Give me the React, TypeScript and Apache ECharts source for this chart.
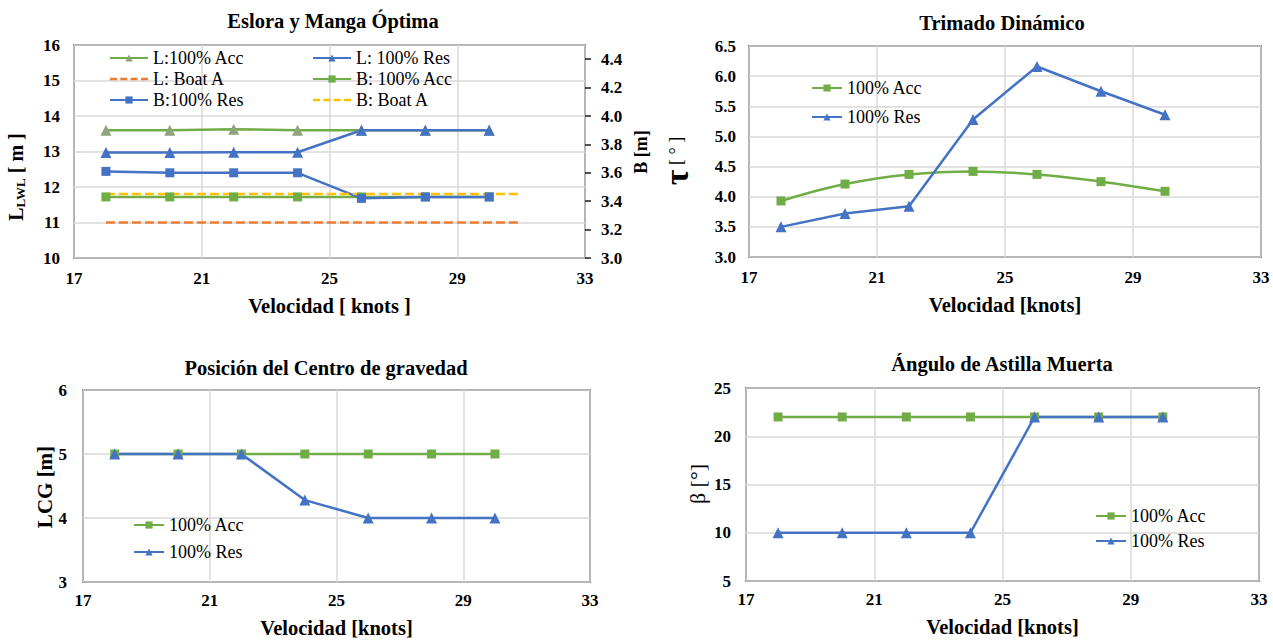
import React, { useEffect, useRef } from "react";
import * as echarts from "echarts";

const SPEED = [18, 20, 22, 24, 26, 28, 30];
const BOAT_SPEED = [18, 31];

const L_ACC = [13.6, 13.6, 13.63, 13.6, 13.6, 13.6, 13.6];
const L_RES = [12.97, 12.97, 12.98, 12.98, 13.6, 13.6, 13.6];
const L_BOAT = [11, 11];
const B_ACC = [3.43, 3.43, 3.43, 3.43, 3.43, 3.43, 3.43];
const B_RES = [3.61, 3.6, 3.6, 3.6, 3.42, 3.43, 3.43];
const B_BOAT = [3.45, 3.45];

const TRIM_ACC = [3.93, 4.21, 4.37, 4.42, 4.37, 4.25, 4.09];
const TRIM_RES = [3.5, 3.72, 3.84, 5.28, 6.16, 5.75, 5.36];

const LCG_ACC = [5, 5, 5, 5, 5, 5, 5];
const LCG_RES = [5, 5, 5, 4.28, 4.0, 4.0, 4.0];

const BETA_ACC = [22, 22, 22, 22, 22, 22, 22];
const BETA_RES = [10, 10, 10, 10, 22, 22, 22];

const TITLES = [
  "Eslora y Manga Óptima",
  "Trimado Dinámico",
  "Posición del Centro de gravedad",
  "Ángulo de Astilla Muerta",
];

const GREEN = "#70AD47";
const BLUE = "#4472C4";
const ORANGE = "#ED7D31";
const YELLOW = "#FFC000";
const GRAYGREEN = "#8FA37D";
const FONT = "Liberation Serif";

const DASH_ICON =
  "path://M0,3.75h7v2.5h-7zM10.3,3.75h7v2.5h-7zM20.6,3.75h7v2.5h-7zM31,3.75h7v2.5h-7z";

const pairs = (xs: number[], ys: number[]) => xs.map((x, i) => [x, ys[i]]);

export default function App() {
  const ref = useRef<HTMLDivElement>(null);
  useEffect(() => {
    if (!ref.current) return;
    const chart = echarts.init(ref.current, undefined, { renderer: "svg" });

    const grids = [
      { left: 74, top: 45, width: 511, height: 213 },
      { left: 749, top: 46, width: 512, height: 211 },
      { left: 83, top: 390, width: 507, height: 192 },
      { left: 746, top: 388, width: 513, height: 193 },
    ].map((g) => ({
      ...g,
      show: true,
      borderColor: "#1a1a1a",
      borderWidth: 1.5,
      containLabel: false,
    }));

    const tickLabel = { fontFamily: FONT, fontWeight: "bold" as const, fontSize: 17, color: "#000" };
    const splitLine = { show: true, lineStyle: { color: "#d9d9d9", width: 1.5 } };

    const xAxes = [0, 1, 2, 3].map((i) => ({
      type: "value" as const,
      gridIndex: i,
      min: 17,
      max: 33,
      interval: 4,
      axisLine: { show: false },
      axisTick: { show: false },
      splitLine,
      axisLabel: { ...tickLabel, margin: i < 2 ? 12 : 10 },
      name: i === 0 ? "Velocidad [ knots ]" : "Velocidad [knots]",
      nameLocation: "middle" as const,
      nameGap: i < 2 ? 37 : 35,
      nameTextStyle: { fontFamily: FONT, fontWeight: "bold" as const, fontSize: 20.5, color: "#000" },
    }));

    const yAxes = [
      {
        type: "value" as const, gridIndex: 0, min: 10, max: 16, interval: 1,
        axisLine: { show: false }, axisTick: { show: false }, splitLine,
        axisLabel: { ...tickLabel, margin: 14 },
      },
      {
        type: "value" as const, gridIndex: 0, position: "right" as const, min: 3.0, max: 4.5, interval: 0.2,
        axisLine: { show: false }, axisTick: { show: true, length: 6, lineStyle: { color: "#1a1a1a", width: 1.5 } },
        splitLine: { show: false },
        axisLabel: { ...tickLabel, margin: 16, showMaxLabel: false, formatter: (v: number) => v.toFixed(1) },
      },
      {
        type: "value" as const, gridIndex: 1, min: 3.0, max: 6.5, interval: 0.5,
        axisLine: { show: false }, axisTick: { show: false }, splitLine,
        axisLabel: { ...tickLabel, margin: 13, formatter: (v: number) => v.toFixed(1) },
      },
      {
        type: "value" as const, gridIndex: 2, min: 3, max: 6, interval: 1,
        axisLine: { show: false }, axisTick: { show: false }, splitLine,
        axisLabel: { ...tickLabel, margin: 16 },
      },
      {
        type: "value" as const, gridIndex: 3, min: 5, max: 25, interval: 5,
        axisLine: { show: false }, axisTick: { show: false }, splitLine,
        axisLabel: { ...tickLabel, margin: 15 },
      },
    ];

    const line = (
      name: string, xi: number, yi: number, data: number[][], color: string,
      symbol: string, extra: any = {}
    ) => ({
      name,
      type: "line" as const,
      xAxisIndex: xi,
      yAxisIndex: yi,
      data,
      symbol,
      symbolSize: symbol === "triangle" ? 11 : 9,
      lineStyle: { color, width: 2.5 },
      itemStyle: { color },
      ...extra,
    });

    const dashed = (name: string, yi: number, data: number[][], color: string) => ({
      name,
      type: "line" as const,
      xAxisIndex: 0,
      yAxisIndex: yi,
      data,
      symbol: "none",
      showSymbol: false,
      lineStyle: { color, width: 2.5, type: [9, 4] as any },
      itemStyle: { color },
    });

    const series = [
      line("L:100% Acc", 0, 0, pairs(SPEED, L_ACC), GREEN, "triangle", {
        itemStyle: { color: GRAYGREEN },
      }),
      line("L: 100% Res", 0, 0, pairs(SPEED, L_RES), BLUE, "triangle"),
      dashed("L: Boat A", 0, pairs(BOAT_SPEED, L_BOAT), ORANGE),
      line("B: 100% Acc", 0, 1, pairs(SPEED, B_ACC), GREEN, "rect"),
      line("B:100% Res", 0, 1, pairs(SPEED, B_RES), BLUE, "rect"),
      dashed("B: Boat A", 1, pairs(BOAT_SPEED, B_BOAT), YELLOW),

      line("100% Acc", 1, 2, pairs(SPEED, TRIM_ACC), GREEN, "rect", { smooth: 0.4 }),
      line("100% Res", 1, 2, pairs(SPEED, TRIM_RES), BLUE, "triangle"),

      line("100% Acc", 2, 3, pairs(SPEED, LCG_ACC), GREEN, "rect"),
      line("100% Res", 2, 3, pairs(SPEED, LCG_RES), BLUE, "triangle"),

      line("100% Acc", 3, 4, pairs(SPEED, BETA_ACC), GREEN, "rect"),
      line("100% Res", 3, 4, pairs(SPEED, BETA_RES), BLUE, "triangle"),
    ];

    const legendText = { fontFamily: FONT, fontSize: 18, color: "#000" };
    const legendBase = {
      orient: "vertical" as const,
      itemHeight: 9,
      textStyle: legendText,
      selectedMode: false,
      backgroundColor: "transparent",
      padding: 0,
    };
    const legend = [
      {
        ...legendBase, left: 109, top: 49, itemWidth: 38, itemGap: 3,
        data: ["L:100% Acc", { name: "L: Boat A", icon: DASH_ICON }, "B:100% Res"],
      },
      {
        ...legendBase, left: 312, top: 49, itemWidth: 38, itemGap: 3,
        data: ["L: 100% Res", "B: 100% Acc", { name: "B: Boat A", icon: DASH_ICON }],
      },
      { ...legendBase, left: 811, top: 79, itemWidth: 30, itemGap: 11, data: ["100% Acc", "100% Res"] },
      { ...legendBase, left: 133, top: 516, itemWidth: 30, itemGap: 9, data: ["100% Acc", "100% Res"] },
      { ...legendBase, left: 1095, top: 507, itemWidth: 30, itemGap: 7, data: ["100% Acc", "100% Res"] },
    ];

    const titleStyle = { fontFamily: FONT, fontWeight: "bold" as const, fontSize: 20.5, color: "#000" };
    const title = [
      { text: TITLES[0], left: 333, top: 10 },
      { text: TITLES[1], left: 1002, top: 12 },
      { text: TITLES[2], left: 326, top: 357 },
      { text: TITLES[3], left: 1002, top: 353 },
    ].map((t) => ({ ...t, textAlign: "center" as const, textStyle: titleStyle, padding: 0 }));

    const yTitle = (x: number, y: number, style: any) => ({
      type: "text" as const,
      x,
      y,
      rotation: Math.PI / 2,
      style: { textAlign: "center", textVerticalAlign: "middle", fill: "#000", fontFamily: FONT, ...style },
    });

    const graphic = [
      yTitle(16, 177, {
        text: "{a|L}{b|LWL}{a| [ m ]}",
        rich: {
          a: { fontFamily: FONT, fontWeight: "bold", fontSize: 20, fill: "#000" },
          b: { fontFamily: FONT, fontWeight: "bold", fontSize: 13, fill: "#000", padding: [9, 0, 0, 0] },
        },
      }),
      yTitle(641, 152, { text: "B [m]", fontWeight: "bold", fontSize: 18 }),
      yTitle(676, 161, {
        text: "{t|τ}{s| [ ° ]}",
        rich: {
          t: { fontFamily: FONT, fontWeight: "bold", fontSize: 34, fill: "#000" },
          s: { fontFamily: FONT, fontSize: 18, fill: "#000" },
        },
      }),
      yTitle(45, 487, { text: "LCG [m]", fontWeight: "bold", fontSize: 21 }),
      yTitle(697, 484, { text: "β [°]", fontSize: 22 }),
    ];

    chart.setOption({
      animation: false,
      backgroundColor: "#fff",
      textStyle: { fontFamily: FONT },
      title,
      grid: grids,
      xAxis: xAxes,
      yAxis: yAxes,
      legend,
      series,
      graphic,
    });
    return () => chart.dispose();
  }, []);

  return (
    <div
      ref={ref}
      style={{ position: "fixed", left: 0, top: 0, width: 1273, height: 641, background: "#fff" }}
    />
  );
}
